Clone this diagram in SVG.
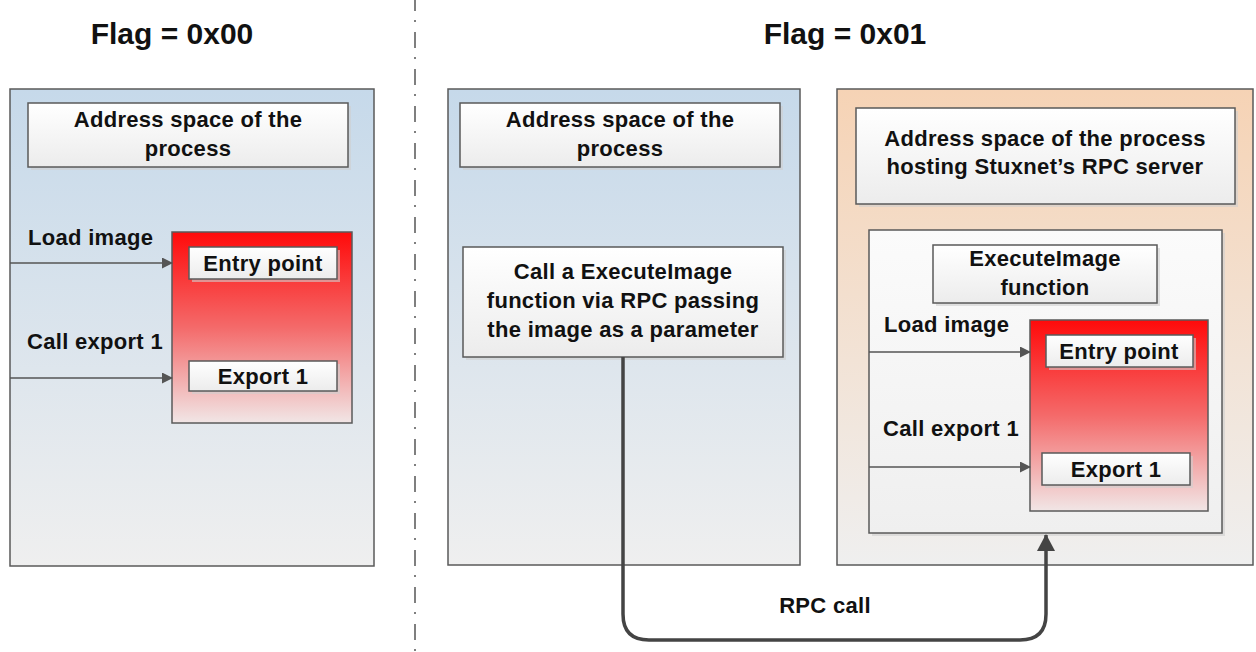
<svg xmlns="http://www.w3.org/2000/svg" width="1256" height="652" viewBox="0 0 1256 652">
<style>
text{font-family:"Liberation Sans",Arial,sans-serif;font-weight:bold;fill:#111}
.t{font-size:22px;text-anchor:middle;letter-spacing:0.3px}
.l{font-size:22px;letter-spacing:0.3px}
.h{font-size:30px;text-anchor:middle}
.panel{stroke:#5a5a5a;stroke-width:1.5}
.box{fill:url(#gw);stroke:#5a5a5a;stroke-width:1.5}
.sh{fill:#cfcfcf;opacity:.6}
.red{fill:url(#gr);stroke:#5a5a5a;stroke-width:1.5}
.arr{stroke:#555;stroke-width:1.5;fill:none;marker-end:url(#ah)}
</style>
<defs>
<linearGradient id="gb" x1="0" y1="0" x2="0" y2="1"><stop offset="0" stop-color="#c6d9ea"/><stop offset="1" stop-color="#efefef"/></linearGradient>
<linearGradient id="go" x1="0" y1="0" x2="0" y2="1"><stop offset="0" stop-color="#f6d3b5"/><stop offset="1" stop-color="#efefef"/></linearGradient>
<linearGradient id="gw" x1="0" y1="0" x2="0" y2="1"><stop offset="0" stop-color="#ffffff"/><stop offset="1" stop-color="#ececec"/></linearGradient>
<linearGradient id="gi" x1="0" y1="0" x2="0" y2="1"><stop offset="0" stop-color="#fbfbfb"/><stop offset="1" stop-color="#efefef"/></linearGradient>
<linearGradient id="gr" x1="0" y1="0" x2="0" y2="1"><stop offset="0" stop-color="#ff0a0a"/><stop offset="0.5" stop-color="#f46a6a"/><stop offset="1" stop-color="#f1e6e6"/></linearGradient>
<marker id="ah" markerWidth="11" markerHeight="11" refX="10" refY="5.5" orient="auto" markerUnits="userSpaceOnUse"><path d="M0,0 L11,5.5 L0,11 Z" fill="#555"/></marker>
<marker id="ahb" markerWidth="18" markerHeight="18" refX="16" refY="9" orient="auto" markerUnits="userSpaceOnUse"><path d="M0,0 L17,9 L0,18 Z" fill="#444"/></marker>
</defs>

<line x1="415" y1="-5" x2="415" y2="652" stroke="#555" stroke-width="1.5" stroke-dasharray="16,9,2,10"/>

<text class="h" x="172" y="44">Flag = 0x00</text>
<text class="h" x="845" y="44">Flag = 0x01</text>

<g id="left-panel">
<rect class="panel" x="10" y="89" width="364" height="477" fill="url(#gb)"/>
</g>
<g id="left-title">
<rect class="sh" x="31" y="106" width="320" height="64"/>
<rect class="box" x="28" y="103" width="320" height="64"/>
<text class="t" x="188" y="127">Address space of the</text>
<text class="t" x="188" y="156">process</text>
</g>
<g id="left-image">
<rect class="red" x="172" y="232" width="180" height="191"/>
</g>
<g id="left-entry">
<rect class="sh" x="192" y="250" width="148" height="32"/>
<rect class="box" x="189" y="247" width="148" height="32"/>
<text class="t" x="263" y="271">Entry point</text>
</g>
<g id="left-export">
<rect class="sh" x="192" y="364" width="148" height="30"/>
<rect class="box" x="189" y="361" width="148" height="30"/>
<text class="t" x="263" y="384">Export 1</text>
</g>

<g id="mid-panel">
<rect class="panel" x="448" y="89" width="352" height="476" fill="url(#gb)"/>
</g>
<g id="mid-title">
<rect class="sh" x="463" y="106" width="320" height="64"/>
<rect class="box" x="460" y="103" width="320" height="64"/>
<text class="t" x="620" y="127">Address space of the</text>
<text class="t" x="620" y="156">process</text>
</g>
<g id="mid-call">
<rect class="sh" x="466" y="250" width="320" height="110"/>
<rect class="box" x="463" y="247" width="320" height="110"/>
<text class="t" x="623" y="279">Call a ExecuteImage</text>
<text class="t" x="623" y="308">function via RPC passing</text>
<text class="t" x="623" y="337">the image as a parameter</text>
</g>

<g id="right-panel">
<rect class="panel" x="837" y="89" width="416" height="476" fill="url(#go)"/>
</g>
<g id="right-title">
<rect class="sh" x="859" y="111" width="379" height="96"/>
<rect class="box" x="856" y="108" width="379" height="96"/>
<text class="t" x="1045" y="146">Address space of the process</text>
<text class="t" x="1045" y="174">hosting Stuxnet’s RPC server</text>
</g>
<g id="right-inner">
<rect class="sh" x="872" y="233" width="353" height="303"/>
<rect x="869" y="230" width="353" height="303" fill="url(#gi)" stroke="#5a5a5a" stroke-width="1.5"/>
</g>
<g id="right-func">
<rect class="sh" x="936" y="248" width="224" height="58"/>
<rect class="box" x="933" y="245" width="224" height="58"/>
<text class="t" x="1045" y="266">ExecuteImage</text>
<text class="t" x="1045" y="295">function</text>
</g>
<g id="right-image">
<rect class="red" x="1030" y="320" width="178" height="191"/>
</g>
<g id="right-entry">
<rect class="sh" x="1049" y="338" width="147" height="32"/>
<rect class="box" x="1046" y="335" width="147" height="32"/>
<text class="t" x="1119" y="359">Entry point</text>
</g>
<g id="right-export">
<rect class="sh" x="1045" y="456" width="148" height="32"/>
<rect class="box" x="1042" y="453" width="148" height="32"/>
<text class="t" x="1116" y="477">Export 1</text>
</g>

<g id="connectors">
<line class="arr" x1="10" y1="263" x2="172" y2="263"/>
<line class="arr" x1="10" y1="378" x2="172" y2="378"/>
<line class="arr" x1="869" y1="352" x2="1030" y2="352"/>
<line class="arr" x1="869" y1="467" x2="1030" y2="467"/>
<path d="M623,357 V614 Q623,640 649,640 H1020 Q1046,640 1046,614 V535" fill="none" stroke="#444" stroke-width="3.5" marker-end="url(#ahb)"/>
</g>

<g id="labels">
<text class="l" x="28" y="245">Load image</text>
<text class="l" x="27" y="349">Call export 1</text>
<text class="l" x="884" y="332">Load image</text>
<text class="l" x="883" y="436">Call export 1</text>
<text class="t" x="825" y="613">RPC call</text>
</g>
</svg>
